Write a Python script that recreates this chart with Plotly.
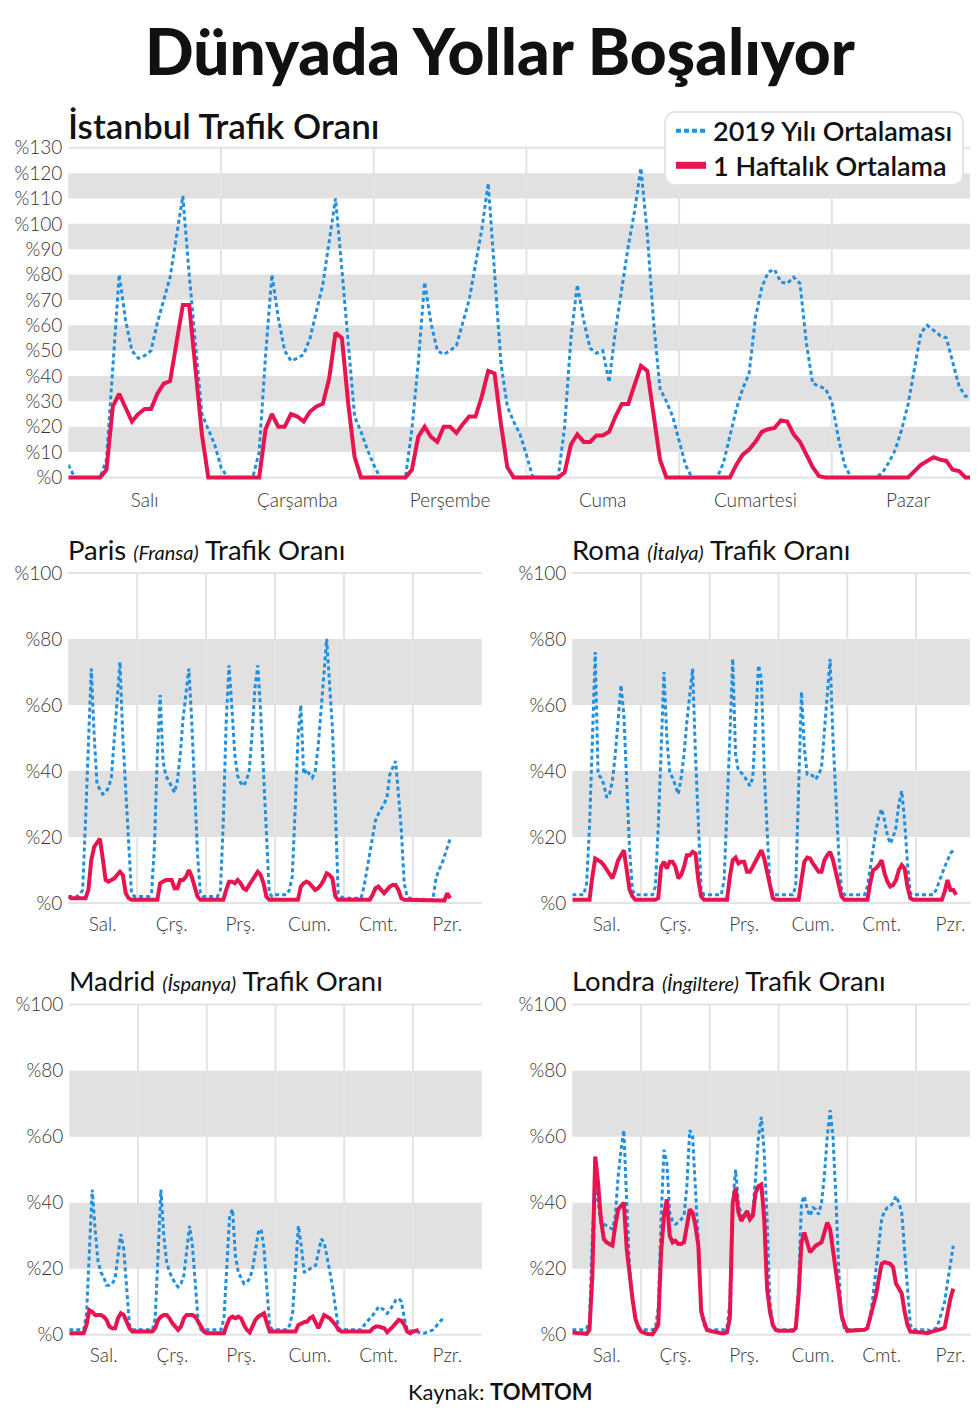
import plotly.graph_objects as go

# Saatlik trafik oranları (%), Salı 00:00'dan başlayarak; her satır bir gün
ist_2019 = [
    5, 0, 0, 0, 0, 0, 7, 45, 80, 62, 50, 47, 48, 50, 61, 70, 79, 95, 111, 80, 52, 25, 19, 13,
    4, 0, 0, 0, 0, 0, 10, 48, 80, 63, 50, 46, 47, 48.5, 55, 66, 76, 93, 110, 82, 53, 24, 18, 11,
    5, 0, 0, 0, 0, 0, 19, 45, 77, 61, 50, 48.5, 50, 52, 61, 70, 84, 98, 116, 82, 45, 28, 22, 17,
    9, 0, 0, 0, 0, 0, 20, 55, 76, 62, 51, 49, 50, 37.5, 58, 74, 91, 105, 122, 96, 61, 35, 30, 24,
    15, 5, 0, 0, 0, 0, 0, 6, 17, 27, 35, 41, 63, 75, 81, 82, 77, 76.5, 79, 76.5, 53, 37, 36, 35,
    30, 16, 5, 0, 0, 0, 0, 0, 2, 6, 11, 19, 29, 43, 57, 60, 58, 56, 55, 45, 36, 32, 32, 25,
]
ist_now = [
    0, 0, 0, 0, 0, 0, 3, 28, 33, 27, 22, 25, 27, 27, 33, 37, 38, 53, 68, 68, 43, 17, 0, 0,
    0, 0, 0, 0, 0, 0, 0, 19, 25, 20, 20, 25, 24, 22, 26, 28, 29, 39, 57, 55, 29, 8, 0, 0,
    0, 0, 0, 0, 0, 0, 3, 16, 20, 16, 14, 20, 20, 17.5, 21, 24, 24, 32, 42, 41, 21, 4, 0, 0,
    0, 0, 0, 0, 0, 0, 2, 13, 17, 14, 14, 16.5, 16.5, 18, 24, 29, 29, 36, 44, 42, 24, 7, 0, 0,
    0, 0, 0, 0, 0, 0, 0, 0, 0, 5, 9, 11, 14, 18, 19, 19.5, 22.5, 22, 17, 14, 9, 4, 0.5, 0,
    0, 0, 0, 0, 0, 0, 0, 0, 0, 0, 0, 0, 0, 2.5, 5, 6.5, 8, 7, 6.5, 3, 2.5, 0, 0, 0,
]

paris_2019 = [
    2, 2, 2, 2, 2.5, 4, 25, 50, 71, 51, 36, 34.5, 33, 33.5, 35, 38, 49, 62, 73, 50, 34, 15, 3, 2,
    2, 2, 2, 2, 2, 3, 17, 45, 63, 43, 38.5, 37, 35, 33.5, 37, 45, 56, 64, 71, 55, 34, 15, 3, 2,
    2, 2, 2, 2, 2, 4, 25, 55, 72, 59, 45, 38.5, 36.5, 35.5, 37, 40, 51, 65, 72, 58, 39, 21, 3, 2,
    2.5, 2.5, 2.5, 2.5, 2.5, 4, 8, 28, 50, 60, 39, 40.5, 39, 38, 40, 47, 57, 69, 80, 65, 53, 29, 3, 2,
    1.5, 1.5, 1.5, 1.5, 1.5, 1.5, 1.5, 5, 10, 15, 20, 25, 27, 28.5, 30, 32, 39, 41, 43, 33, 22, 6, 2, 1.5,
    1.2, 1.2, 1.2, 1.2, 1.2, 1.2, 1.2, 1, 7, 10, 11.5, 14, 17, 19.5,
]
paris_now = [
    2, 1.5, 1.5, 1.5, 1.5, 1.5, 1.5, 4, 13, 17, 18.5, 19.5, 13.5, 7, 6.5, 7, 7.5, 8.5, 9.5, 8.5, 3, 1.5, 1, 1,
    1, 1, 1, 1, 1, 1, 1, 1, 6, 6.5, 7, 7, 7, 4.5, 4.5, 7, 7, 8, 10, 8, 5, 2, 1, 1,
    1, 1, 1, 1, 1, 1, 1, 4, 6.5, 6.5, 6, 7, 6, 4.5, 4, 5.5, 7, 8.5, 9.5, 8.5, 6, 2, 1, 1,
    1, 1, 1, 1, 1, 1, 1, 1, 1, 5, 6, 6.5, 6, 5, 4, 4.5, 5.5, 7, 9, 8.5, 7.5, 2, 1, 1,
    1, 1, 1, 1, 1, 1, 1, 1, 1, 1, 2.5, 4.5, 5, 4, 3, 4, 5, 5.5, 5.5, 4, 1.5, 1, 1, 1,
    0.8, 0.8, 0.8, 0.8, 0.8, 0.8, 0.8, 0.8, 0.8, 0.8, 0.8, 0.8, 3, 1.5,
]

roma_2019 = [
    2.5, 2.5, 2.5, 2.5, 2.5, 6, 23, 49, 76, 39, 38, 36, 32, 33, 37, 45, 55, 66, 57, 37, 16, 4, 2.5, 2.5,
    2.5, 2.5, 2.5, 2.5, 2.5, 5, 23, 46, 70, 50, 39.5, 38, 35.5, 33, 38, 45, 55, 64, 71, 45, 22, 4, 2.5, 2.5,
    2.5, 2.5, 2.5, 2.5, 2.5, 7, 27, 50, 74, 45, 40, 39.5, 38.5, 37, 35.5, 38, 55, 72, 68, 40, 22, 6, 2.5, 2.5,
    2.5, 2.5, 2.5, 2.5, 2.5, 2.5, 5, 36, 64, 47, 39, 39, 38.5, 37.5, 39, 41, 53, 65, 74, 50, 33, 15, 4, 2.5,
    2.5, 2.5, 2.5, 2.5, 2.5, 2.5, 2.5, 5, 10, 16, 22, 26, 28.5, 25, 20.5, 18, 20, 23, 30, 34, 25, 12, 3, 2.5,
    2.5, 2.5, 2.5, 2.5, 2.5, 2.5, 2.5, 4, 6.5, 9, 11, 13, 15, 16,
]
roma_now = [
    1, 1, 1, 1, 1, 1, 1, 8, 13.5, 13, 12.5, 11.5, 10, 8.5, 7.5, 10, 13, 14.5, 16, 10, 4, 2, 1, 1,
    1, 1, 1, 1, 1, 1, 1.5, 11, 12.5, 10.5, 12.5, 12.5, 11, 7.5, 8.5, 11, 14.5, 14.5, 15.5, 15, 7, 2, 1, 1,
    1, 1, 1, 1, 1, 1, 1, 8, 13, 13.8, 12, 12.5, 12.5, 9.5, 9.5, 11, 12.5, 14.5, 16, 13.5, 9, 5, 1.5, 1,
    1, 1, 1, 1, 1, 1, 1, 1, 7, 12.5, 13.8, 13.5, 12, 10.5, 9.5, 9.5, 13, 14.5, 15.5, 13, 9, 5, 2, 1,
    1, 1, 1, 1, 1, 1, 1, 1, 6, 10, 10.5, 11.5, 13, 9, 6.5, 5, 5.5, 7, 10, 11.5, 10.5, 5, 1.5, 1,
    1, 1, 1, 1, 1, 1, 1, 1, 1, 1, 3.5, 7, 4, 4, 2.5,
]

madrid_2019 = [
    1.5, 1.5, 1.5, 1.5, 1.5, 1.5, 6, 25, 44, 32, 22.5, 19, 17.5, 15, 15, 15.5, 17, 24, 30.5, 26, 14, 3, 1.5, 1.5,
    1.5, 1.5, 1.5, 1.5, 1.5, 1.5, 5, 25, 44, 30, 22, 19, 17, 15.5, 14.5, 15.5, 18, 26, 33, 27, 15, 4, 1.5, 1.5,
    1.5, 1.5, 1.5, 1.5, 1.5, 1.5, 5, 22, 36, 38, 24, 19, 17, 15.5, 16, 17, 20, 25, 31, 32, 26, 14, 2.5, 1.5,
    1.5, 1.5, 1.5, 1.5, 1.5, 3, 7, 20, 33, 27, 19, 19, 20, 20.5, 21, 25, 29, 28, 24, 19, 14, 8, 2, 1.5,
    1.5, 1.5, 1.5, 1.5, 1.5, 1.5, 1.5, 3, 4, 5, 6, 7, 8.5, 8, 7.5, 6.5, 7.5, 9, 10.5, 11, 10, 5, 1.5, 1.2,
    1.2, 1, 0.8, 0.5, 0.5, 0.8, 1, 1.5, 2.5, 3.5, 4.5, 5.5,
]
madrid_now = [
    0.5, 0.5, 0.5, 0.5, 0.5, 0.5, 3, 7.5, 7, 6, 6, 6, 5.5, 4.5, 2.5, 2, 2, 5, 6.5, 6, 4, 2, 1, 1,
    1, 1, 1, 1, 1, 1, 2, 4.5, 5.5, 6, 6, 5, 3.5, 2.5, 1.5, 2.5, 5, 6, 6, 6, 5.5, 4, 2, 1,
    0.5, 0.5, 0.5, 0.5, 0.5, 0.5, 0.5, 3, 5, 5.5, 5, 5.5, 5, 3, 1.5, 0.7, 2.5, 4.5, 5.5, 6, 6.5, 3.5, 1, 1,
    1, 1, 1, 1, 1, 1, 1, 1, 3, 3.5, 3.8, 4, 5, 5.5, 3.5, 2, 4, 6, 5.5, 5, 4, 3, 1.5, 1,
    1, 1, 1, 1, 1, 1, 1, 1, 1, 1, 2, 2.5, 2.5, 2.3, 2, 0.8, 1.5, 2.5, 3.5, 4.5, 4.2, 3, 1, 0.5,
    1, 1.2, 1.5,
]

londra_2019 = [
    1.5, 1.5, 1.5, 1.5, 1.5, 2, 4, 30, 48, 40, 34, 33.5, 33, 32.5, 32, 36, 48, 56, 62, 40, 20, 10, 5, 2,
    1.5, 1.5, 1.5, 1.5, 1.5, 2, 8, 35, 56, 52, 37, 34.5, 33.5, 34, 35, 36, 45, 62, 60, 45, 28, 8, 3, 1.5,
    1.5, 1.5, 1.5, 1.5, 1.5, 1.5, 2, 10, 40, 50, 40, 36, 36, 36, 35, 37, 48, 60, 66, 55, 35, 10, 3, 1.5,
    1.5, 1.5, 1.5, 1.5, 1.5, 1.5, 2.5, 15, 40, 42, 38, 36, 38.5, 38, 36.5, 40, 48, 60, 68, 60, 42, 20, 5, 2,
    1.5, 1.5, 1.5, 1.5, 1.5, 1.5, 1.5, 2.5, 5, 12, 20, 28, 35, 37.5, 38.5, 39, 40, 42, 40, 37, 25, 12, 3, 1.5,
    1.5, 1.5, 1.5, 1.5, 1.5, 1.2, 1.5, 2, 4, 7, 10, 16, 21, 27,
]
londra_now = [
    0.8, 0.5, 0.5, 0.5, 0.3, 0.3, 1.5, 18, 54, 46, 35, 29, 28, 27.5, 27, 33, 38, 39, 40, 26, 18, 11, 5, 2.5,
    1, 0.5, 0.3, 0.2, 0.2, 1.5, 3, 25, 36, 41, 30, 28, 28.5, 27.5, 27.5, 28, 33, 38, 37, 33, 27, 7, 4, 1.5,
    1.2, 1, 0.8, 0.5, 0.5, 0.5, 0.8, 5, 40, 44.5, 37, 34.5, 36, 37.5, 35, 36, 43, 45, 45.5, 35, 14, 7, 3, 1.5,
    1.2, 1.2, 1.2, 1.2, 1.2, 1.2, 2, 12, 28, 31, 28, 25, 26, 27, 27.5, 28, 31, 34, 32, 26, 21, 13, 6, 3,
    1.2, 1.2, 1.2, 1.2, 1.2, 1.2, 1.5, 2, 5, 8, 12, 17, 21.5, 22, 21.8, 21.5, 20.5, 15.5, 14, 12.5, 7, 3, 1, 1,
    1, 0.8, 0.7, 0.6, 0.5, 0.8, 1, 1.3, 1.6, 1.8, 2.2, 7, 11, 14,
]

gunler_uzun = ["Salı", "Çarşamba", "Perşembe", "Cuma", "Cumartesi", "Pazar"]
gunler_kisa = ["Sal.", "Çrş.", "Prş.", "Cum.", "Cmt.", "Pzr."]
gun_ortalari = [12, 36, 60, 84, 108, 132]
gun_sinirlari = [24, 48, 72, 96, 120]

BLUE = "#1f8fe0"
RED = "#e8144f"
BAND = "#e1e1e1"
GRID = "#e3e3e3"
FONT = "Lato"

# sayfa 978x1419; gövde kenar boşluğu (8px): figür sol/üstten 8px içeride başlar
OFF = 8
FW, FH = 978 - OFF, 1419 - 2 * OFF
RIGHT = 978


def X(v):
    return (v - OFF) / FW


def Y(v):
    return 1 - (v - OFF) / FH


fig = go.Figure()

panels = [
    dict(n=1, top=130, step=10, left=68.3, day=152.7, right=978, ytop=139.3, yzero=472.7,
         labels=gunler_uzun, old=ist_2019, new=ist_now),
    dict(n=2, top=100, step=20, left=68.3, day=68.9, right=481.7, ytop=569.3, yzero=903.3,
         labels=gunler_kisa, old=paris_2019, new=paris_now),
    dict(n=3, top=100, step=20, left=572.3, day=68.75, right=978, ytop=569.3, yzero=903.3,
         labels=gunler_kisa, old=roma_2019, new=roma_now),
    dict(n=4, top=100, step=20, left=69.3, day=68.73, right=481.7, ytop=1006, yzero=1340,
         labels=gunler_kisa, old=madrid_2019, new=madrid_now),
    dict(n=5, top=100, step=20, left=572.3, day=68.75, right=978, ytop=1006, yzero=1340,
         labels=gunler_kisa, old=londra_2019, new=londra_now),
]

shapes = []
for p in panels:
    s = "" if p["n"] == 1 else str(p["n"])
    xa, ya = "x" + s, "y" + s
    right = min(p["right"], RIGHT)
    xmax = (right - p["left"]) / p["day"] * 24
    ppu = (p["yzero"] - p["ytop"]) / p["top"]
    lo, hi = 2, 1
    dom_b = p["yzero"] + lo * ppu
    dom_t = p["ytop"] - hi * ppu
    ticks_y = list(range(0, p["top"] + 1, p["step"]))
    fig.update_layout({
        "xaxis" + s: dict(domain=[X(p["left"]), X(right)], range=[0, xmax],
                          anchor=ya, showgrid=False, zeroline=False, showline=False,
                          tickvals=gun_ortalari, ticktext=p["labels"], ticks="",
                          ticklabelstandoff=5 if p["n"] == 1 else 1,
                          tickfont=dict(family=FONT, size=19, color="#333", weight=300)),
        "yaxis" + s: dict(domain=[Y(dom_b), Y(dom_t)], range=[-lo, p["top"] + hi],
                          anchor=xa, showgrid=False, zeroline=False, showline=False,
                          tickvals=ticks_y, ticktext=["%" + str(v) for v in ticks_y],
                          ticks="", ticklabelstandoff=5,
                          tickfont=dict(family=FONT, size=19, color="#333", weight=300)),
    })
    for b in range(p["step"], p["top"], 2 * p["step"]):
        shapes.append(dict(type="rect", xref=xa + " domain", yref=ya, x0=0, x1=1, y0=b, y1=b + p["step"],
                           fillcolor=BAND, line_width=0, layer="below"))
    for g in gun_sinirlari:
        shapes.append(dict(type="line", xref=xa, yref=ya, x0=g, x1=g, y0=0, y1=p["top"],
                           line=dict(color=GRID, width=2), layer="below"))
    for yv in (0, p["top"]):
        shapes.append(dict(type="line", xref=xa + " domain", yref=ya, x0=0, x1=1, y0=yv, y1=yv,
                           line=dict(color=GRID, width=2), layer="below"))

    fig.add_trace(go.Scatter(x=list(range(len(p["old"]))), y=p["old"], mode="lines",
                             name="2019 Yılı Ortalaması", showlegend=False,
                             line=dict(color=BLUE, width=3, dash="4px,3px"), xaxis=xa, yaxis=ya))
    fig.add_trace(go.Scatter(x=list(range(len(p["new"]))), y=p["new"], mode="lines",
                             name="1 Haftalık Ortalama", showlegend=False,
                             line=dict(color=RED, width=4), xaxis=xa, yaxis=ya))

# lejant kutusu (yuvarlak köşeli) ve örnek çizgiler
bx0, bx1, by0, by1, r = 665, 963, 103, 177, 12
path = (f"M {X(bx0 + r)},{Y(by0)} L {X(bx1 - r)},{Y(by0)} Q {X(bx1)},{Y(by0)} {X(bx1)},{Y(by0 + r)} "
        f"L {X(bx1)},{Y(by1 - r)} Q {X(bx1)},{Y(by1)} {X(bx1 - r)},{Y(by1)} "
        f"L {X(bx0 + r)},{Y(by1)} Q {X(bx0)},{Y(by1)} {X(bx0)},{Y(by1 - r)} "
        f"L {X(bx0)},{Y(by0 + r)} Q {X(bx0)},{Y(by0)} {X(bx0 + r)},{Y(by0)} Z")
shapes.append(dict(type="path", xref="paper", yref="paper", path=path, fillcolor="white",
                   line=dict(color="#e4e4e4", width=2), layer="above"))
shapes.append(dict(type="line", xref="paper", yref="paper", x0=X(676), x1=X(706), y0=Y(122), y1=Y(122),
                   line=dict(color=BLUE, width=4, dash="5px,3px"), layer="above"))
shapes.append(dict(type="line", xref="paper", yref="paper", x0=X(676), x1=X(706), y0=Y(157), y1=Y(157),
                   line=dict(color=RED, width=7), layer="above"))


def ann(text, x, y, size, weight=400, xanchor="left"):
    return dict(text=text, x=X(x), y=Y(y), xref="paper", yref="paper", showarrow=False,
                xanchor=xanchor, yanchor="middle",
                font=dict(family=FONT, size=size, color="#111", weight=weight))


def alt_baslik(sehir, ulke):
    return f"{sehir} <i><span style='font-size:20px'>({ulke})</span></i> Trafik Oranı"


annotations = [
    ann("Dünyada Yollar Boşalıyor", 500, 41, 64, 900, "center"),
    ann("İstanbul Trafik Oranı", 66, 116, 35, 600),
    ann("2019 Yılı Ortalaması", 711, 122, 27, 600),
    ann("1 Haftalık Ortalama", 711, 157, 27, 600),
    ann(alt_baslik("Paris", "Fransa"), 66, 546, 27.5),
    ann(alt_baslik("Roma", "İtalya"), 570, 546, 27.5),
    ann(alt_baslik("Madrid", "İspanya"), 67, 982, 27.5),
    ann(alt_baslik("Londra", "İngiltere"), 570, 982, 27.5),
    ann("Kaynak: <b>TOMTOM</b>", 500, 1397, 22, 400, "center"),
]

fig.update_layout(
    width=FW, height=FH, margin=dict(l=0, r=0, t=0, b=0),
    paper_bgcolor="white", plot_bgcolor="white",
    shapes=shapes, annotations=annotations,
    showlegend=False, hovermode=False,
)

fig.write_html("out.html")
